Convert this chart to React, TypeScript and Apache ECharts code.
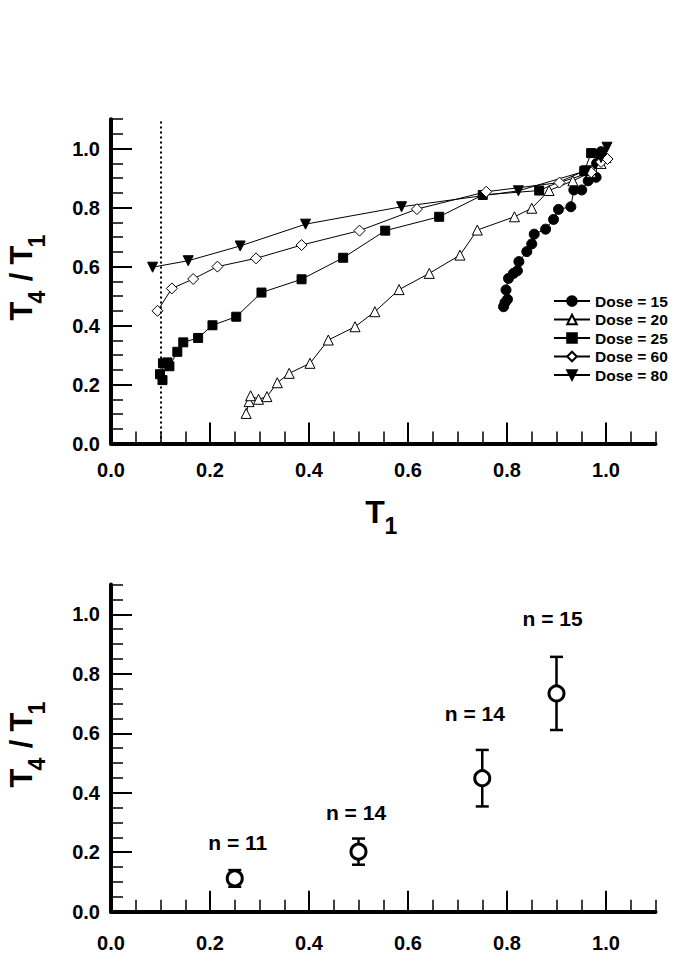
import React, { useEffect, useRef } from 'react';
import * as echarts from 'echarts';

// ---------- data: top panel (T4/T1 vs T1 per dose) ----------
const dose15: [number, number][] = [
  [0.793, 0.464], [0.796, 0.478], [0.801, 0.489], [0.798, 0.521], [0.803, 0.56], [0.813, 0.577],
  [0.821, 0.586], [0.824, 0.617], [0.84, 0.651], [0.85, 0.677], [0.855, 0.71], [0.878, 0.727],
  [0.894, 0.76], [0.904, 0.794], [0.929, 0.803], [0.935, 0.86], [0.951, 0.86], [0.964, 0.891],
  [0.98, 0.903], [0.981, 0.95], [0.99, 0.99],
];
const dose20: [number, number][] = [
  [0.273, 0.102], [0.279, 0.142], [0.282, 0.162], [0.298, 0.15], [0.315, 0.159], [0.336, 0.206],
  [0.36, 0.238], [0.402, 0.272], [0.439, 0.351], [0.493, 0.396], [0.533, 0.447], [0.582, 0.522],
  [0.643, 0.577], [0.705, 0.639], [0.74, 0.724], [0.815, 0.769], [0.85, 0.798], [0.885, 0.858],
  [0.933, 0.891], [0.97, 0.92], [0.99, 0.95], [1.0, 0.97],
];
const dose25: [number, number][] = [
  [0.099, 0.235], [0.104, 0.215], [0.105, 0.272], [0.114, 0.275], [0.118, 0.262], [0.134, 0.311],
  [0.146, 0.343], [0.176, 0.358], [0.205, 0.401], [0.253, 0.43], [0.304, 0.512], [0.385, 0.557],
  [0.469, 0.63], [0.554, 0.722], [0.663, 0.769], [0.751, 0.843], [0.865, 0.858], [0.956, 0.924],
  [0.97, 0.985], [0.99, 0.98],
];
const dose60: [number, number][] = [
  [0.094, 0.45], [0.123, 0.526], [0.166, 0.558], [0.215, 0.6], [0.293, 0.628], [0.385, 0.673],
  [0.502, 0.722], [0.618, 0.795], [0.758, 0.854], [0.906, 0.885], [0.97, 0.92], [0.99, 0.955],
  [1.003, 0.965],
];
const dose80: [number, number][] = [
  [0.084, 0.598], [0.156, 0.62], [0.261, 0.67], [0.393, 0.744], [0.587, 0.803], [0.823, 0.857],
  [0.96, 0.925], [0.99, 0.97], [1.002, 1.005],
];
const seriesNames = ['Dose = 15', 'Dose = 20', 'Dose = 25', 'Dose = 60', 'Dose = 80'];
const thresholdX = 0.1;

// ---------- data: bottom panel (means with error bars) ----------
const groupX = [0.25, 0.5, 0.75, 0.9];
const groupMean = [0.112, 0.202, 0.449, 0.734];
const groupErr = [0.028, 0.044, 0.095, 0.123];
const groupN = ['n = 11', 'n = 14', 'n = 14', 'n = 15'];
const nLabelX = [0.256, 0.495, 0.735, 0.892];
const nLabelY = [0.234, 0.333, 0.667, 0.987];

// ---------- axis ticks ----------
const axisMin = 0;
const axisMax = 1.1;
const minorStep = 0.05;
const majorTicks = [0, 0.2, 0.4, 0.6, 0.8, 1.0];

const FONT = "'Liberation Sans', Arial, Helvetica, sans-serif";

function minorAxis(kind: 'x' | 'y', gridIndex: number) {
  return {
    type: 'value',
    gridIndex,
    min: axisMin,
    max: axisMax,
    interval: minorStep,
    position: kind === 'x' ? 'bottom' : 'left',
    axisLine: { show: true, onZero: false, lineStyle: { color: '#000', width: 4 } },
    axisTick: { show: true, inside: true, length: 12, lineStyle: { color: '#000', width: 1.5 } },
    axisLabel: { show: false },
    splitLine: { show: false },
  };
}

function majorAxis(kind: 'x' | 'y', gridIndex: number, labelMargin: number) {
  return {
    type: 'value',
    gridIndex,
    min: axisMin,
    max: axisMax,
    position: kind === 'x' ? 'bottom' : 'left',
    axisLine: { show: false, onZero: false },
    axisTick: {
      show: true,
      inside: true,
      length: 21,
      customValues: majorTicks,
      lineStyle: { color: '#000', width: 2 },
    },
    axisLabel: {
      show: true,
      customValues: majorTicks,
      formatter: (v: number) => v.toFixed(1),
      margin: labelMargin,
      fontSize: 20,
      fontWeight: 'bold',
      color: '#000',
      fontFamily: FONT,
    },
    splitLine: { show: false },
  };
}

const downTriangle = 'path://M0,0 L10,0 L5,9 Z';

function lineSeries(name: string, data: [number, number][], symbol: string, size: number, filled: boolean, extra: any = {}) {
  return {
    name,
    type: 'line',
    xAxisIndex: 0,
    yAxisIndex: 0,
    data,
    symbol,
    symbolSize: size,
    showSymbol: true,
    lineStyle: { color: '#000', width: 1 },
    itemStyle: { color: filled ? '#000' : '#fff', borderColor: '#000', borderWidth: 1 },
    z: 3,
    ...extra,
  };
}

function textEl(text: string, x: number, y: number, size: number, rotate = false) {
  return {
    type: 'text',
    x,
    y,
    rotation: rotate ? Math.PI / 2 : 0,
    style: {
      text,
      fill: '#000',
      font: `bold ${size}px ${FONT}`,
      textAlign: 'center',
      textVerticalAlign: 'middle',
    },
  };
}

function yTitle(cy: number) {
  return [
    textEl('T', 21, cy + 33, 31, true),
    textEl('4', 37, cy + 19, 23, true),
    textEl('/', 21, cy - 1, 31, true),
    textEl('T', 21, cy - 23, 31, true),
    textEl('1', 37, cy - 37, 23, true),
  ];
}

export default function App() {
  const ref = useRef<HTMLDivElement>(null);

  useEffect(() => {
    if (!ref.current) return;
    const chart = echarts.init(ref.current, undefined, { renderer: 'svg' });

    const errData = groupX.map((x, i) => [x, groupMean[i] - groupErr[i], groupMean[i] + groupErr[i]]);
    const meanData = groupX.map((x, i) => [x, groupMean[i]]);
    const nData = nLabelX.map((x, i) => [x, nLabelY[i]]);

    const option: any = {
      animation: false,
      backgroundColor: '#fff',
      grid: [
        { left: 111, top: 119.2, width: 544.5, height: 324.3 },
        { left: 111, top: 584.6, width: 544.5, height: 327.1 },
      ],
      xAxis: [minorAxis('x', 0), majorAxis('x', 0, 16), minorAxis('x', 1), majorAxis('x', 1, 21)],
      yAxis: [minorAxis('y', 0), majorAxis('y', 0, 11), minorAxis('y', 1), majorAxis('y', 1, 11)],
      legend: {
        orient: 'vertical',
        left: 553,
        top: 293,
        padding: 0,
        itemWidth: 36,
        itemHeight: 12,
        itemGap: 2.5,
        data: seriesNames,
        textStyle: { fontSize: 15.5, fontWeight: 'bold', color: '#000', fontFamily: FONT },
      },
      series: [
        lineSeries(seriesNames[0], dose15, 'circle', 10, true, {
          markLine: {
            silent: true,
            symbol: ['none', 'none'],
            label: { show: false },
            lineStyle: { color: '#000', width: 2, type: [2, 3] },
            data: [{ xAxis: thresholdX }],
          },
        }),
        lineSeries(seriesNames[1], dose20, 'triangle', 10, false),
        lineSeries(seriesNames[2], dose25, 'rect', 9, true),
        lineSeries(seriesNames[3], dose60, 'diamond', 11, false),
        lineSeries(seriesNames[4], dose80, downTriangle, 10, true),
        {
          type: 'custom',
          xAxisIndex: 2,
          yAxisIndex: 2,
          data: errData,
          encode: { x: 0, y: [1, 2] },
          clip: false,
          z: 2,
          renderItem: (_params: any, api: any) => {
            const x = api.value(0);
            const lo = api.coord([x, api.value(1)]);
            const hi = api.coord([x, api.value(2)]);
            const hw = 6.5;
            const st = { stroke: '#000', lineWidth: 2.5 };
            return {
              type: 'group',
              children: [
                { type: 'line', shape: { x1: lo[0], y1: lo[1], x2: hi[0], y2: hi[1] }, style: st },
                { type: 'line', shape: { x1: hi[0] - hw, y1: hi[1], x2: hi[0] + hw, y2: hi[1] }, style: st },
                { type: 'line', shape: { x1: lo[0] - hw, y1: lo[1], x2: lo[0] + hw, y2: lo[1] }, style: st },
              ],
            };
          },
        },
        {
          type: 'scatter',
          xAxisIndex: 2,
          yAxisIndex: 2,
          data: meanData,
          symbol: 'circle',
          symbolSize: 15,
          itemStyle: { color: '#fff', borderColor: '#000', borderWidth: 3, opacity: 1 },
          z: 5,
        },
        {
          type: 'scatter',
          xAxisIndex: 2,
          yAxisIndex: 2,
          data: nData,
          symbol: 'circle',
          symbolSize: 1,
          itemStyle: { color: 'rgba(255,255,255,0)', opacity: 1 },
          label: {
            show: true,
            position: 'inside',
            formatter: (p: any) => groupN[p.dataIndex],
            fontSize: 21,
            fontWeight: 'bold',
            color: '#000',
            opacity: 1,
            textBorderWidth: 0,
            textBorderColor: 'transparent',
            fontFamily: FONT,
          },
          z: 6,
        },
      ],
      graphic: [
        ...yTitle(278),
        ...yTitle(745),
        textEl('T', 375, 511.5, 32),
        textEl('1', 391, 526, 23),
      ],
    };

    chart.setOption(option);
    return () => chart.dispose();
  }, []);

  return (
    <div
      ref={ref}
      style={{ position: 'fixed', left: 0, top: 0, width: 685, height: 971, background: '#fff' }}
    />
  );
}
